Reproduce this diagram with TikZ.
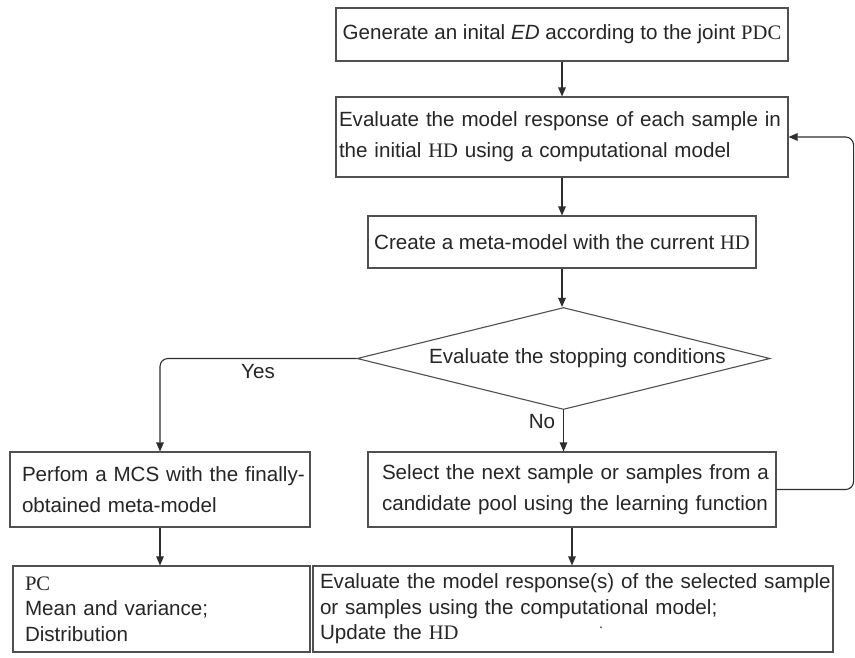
\documentclass[tikz,border=0pt]{standalone}
\usepackage{fontspec}
\setmainfont{Liberation Sans}
\newfontfamily\seriffont{Liberation Serif}
\usetikzlibrary{shapes.geometric,arrows.meta}
\newcommand{\srf}[1]{{\seriffont #1}}
\definecolor{boxgray}{RGB}{80,80,80}
\definecolor{txt}{RGB}{38,38,38}
\definecolor{linec}{RGB}{45,45,45}
\begin{document}
\begin{tikzpicture}[x=1pt,y=-1pt,
  line width=1.1pt,
  box/.style={draw=boxgray, rectangle, inner ysep=0pt, text=txt},
  big/.style={font=\fontsize{20.6}{31}\selectfont},
  tight/.style={font=\fontsize{20.6}{25.5}\selectfont},
  lbl/.style={text=txt, font=\fontsize{20.6}{25}\selectfont, inner sep=0pt},
  arr/.style={draw=linec, -{Triangle[length=9pt,width=7.5pt]}}]
\fill[white] (0,0) rectangle (855,657);
\useasboundingbox (0,0) rectangle (855,657);

\node[box, big, align=center, minimum width=452pt, minimum height=53pt] (b1) at (562,34.5)
  {Generate an inital \textit{ED} according to the joint \srf{PDC}};
\node[box, big, align=left, minimum width=452pt, minimum height=80pt, text width=446pt, inner xsep=3pt] (b2) at (562,137)
  {\mbox{Evaluate the model response of each sample in}\\\mbox{the initial \srf{HD} using a computational model}};
\node[box, big, align=center, minimum width=388pt, minimum height=52pt] (b3) at (562,242)
  {Create a meta-model with the current \srf{HD}};
\node[draw=boxgray, diamond, aspect=4, inner sep=0pt, minimum width=413pt, minimum height=102pt, text=txt, big] (d) at (563.5,358.5)
  {\hspace*{28pt}Evaluate the stopping conditions};
\node[box, big, align=left, minimum width=300pt, minimum height=75pt, text width=276pt, inner xsep=12pt] (perf) at (160,489.5)
  {\mbox{Perfom a MCS with the finally-}\\\mbox{obtained meta-model}};
\node[box, big, align=left, minimum width=408pt, minimum height=75pt, text width=380pt, inner xsep=14pt] (sel) at (572,489.5)
  {\mbox{Select the next sample or samples from a}\\\mbox{candidate pool using the learning function}};
\node[box, tight, align=left, minimum width=297pt, minimum height=86pt, text width=273pt, inner xsep=12pt] (pc) at (161.5,609)
  {\srf{PC}\\\mbox{Mean and variance;}\\\mbox{Distribution}};
\node[box, tight, align=left, minimum width=520pt, minimum height=86pt, text width=506pt, inner xsep=7pt] (ev) at (573,609)
  {\mbox{Evaluate the model response(s) of the selected sample}\\\mbox{or samples using the computational model;}\\\mbox{Update the \srf{HD}}};
\node[lbl, font=\fontsize{14}{14}\selectfont] (dot) at (601,628) {.};

\node[lbl] (yes) at (258,372) {Yes};
\node[lbl] (no) at (542,422) {No};

\draw[arr] (b1) -- (b2);
\draw[arr] (b2) -- (b3);
\draw[arr] (b3.south) -- (b3.south |- d.north);
\draw[arr, rounded corners=8pt] (d.west) -| (perf.north);
\draw[arr] (d.south) -- (d.south |- sel.north);
\draw[arr] (sel.south) -- (sel.south |- ev.north);
\draw[arr] (perf.south) -- (perf.south |- pc.north);
\draw[arr, rounded corners=8pt] (sel.east) -- ++(77,0) |- (b2.east);
\end{tikzpicture}
\end{document}
